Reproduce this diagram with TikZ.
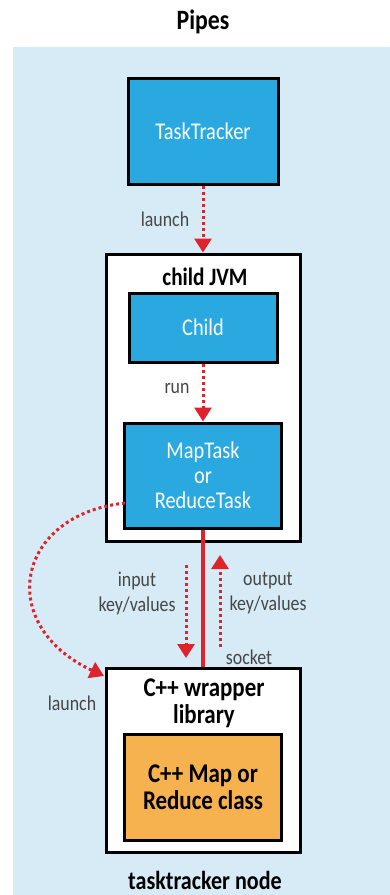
\documentclass[tikz,border=0pt]{standalone}
\usepackage{fontspec}
\setmainfont{Carlito}[FakeStretch=0.85]
\usetikzlibrary{arrows.meta,positioning}

\definecolor{bgblue}{RGB}{214,235,246}
\definecolor{boxblue}{RGB}{41,169,224}
\definecolor{boxorange}{RGB}{247,178,80}
\definecolor{arrred}{RGB}{222,35,45}
\definecolor{lblgray}{RGB}{70,70,70}

\begin{document}
\begin{tikzpicture}[x=1pt, y=-1pt,
    blu/.style={draw=black, line width=3pt, fill=boxblue, text=white, align=center, font=\fontsize{24}{25}\selectfont},
    wht/.style={draw=black, line width=3pt, fill=white},
    org/.style={draw=black, line width=3pt, fill=boxorange, align=center, font=\bfseries\fontsize{27}{27}\selectfont},
    lbl/.style={text=lblgray, align=center, font=\fontsize{21}{25}\selectfont},
    ttl/.style={align=center, font=\bfseries\fontsize{26}{27}\selectfont},
    dots/.style={arrred, line width=3pt, dash pattern=on 3pt off 3pt, -{Triangle[width=17pt,length=14pt]}}]
    \useasboundingbox (0,0) rectangle (390,895);
    \fill[bgblue] (13,47) rectangle (390,895);

    \node[ttl, font=\bfseries\fontsize{28}{30}\selectfont] (pipes) at (203,22) {Pipes};

    \node[blu, minimum width=150pt, minimum height=106pt] (tt) at (203,131) {TaskTracker};

    \node[wht, minimum width=194pt, minimum height=287pt] (jvm) at (203,397.5) {};
    \node[ttl, font=\bfseries\fontsize{25}{27}\selectfont] (jvmname) at (205,277) {child JVM};
    \node[blu, minimum width=148pt, minimum height=69pt] (child) at (203,327.5) {Child};
    \node[blu, minimum width=157pt, minimum height=105pt] (task) at (203,475.5) {MapTask\\or\\ReduceTask};

    \node[wht, minimum width=194pt, minimum height=184pt] (wrap) at (203,760) {};
    \node[ttl, font=\bfseries\fontsize{27}{27}\selectfont] (wrapname) at (204,703) {C++ wrapper\\library};
    \node[org, minimum width=157pt, minimum height=106pt] (cls) at (203,787) {C++ Map or\\Reduce class};
    \node[ttl] (ttnode) at (205,880) {tasktracker node};

    \node[lbl] (launchA) at (165,219) {launch};
    \node[lbl] (runlbl) at (177,388) {run};
    \node[lbl] (inlbl) at (137,593) {input\\key/values};
    \node[lbl] (outlbl) at (268,593) {output\\key/values};
    \node[lbl] (socklbl) at (249,657) {socket};
    \node[lbl] (launchB) at (72,703) {launch};

    \coordinate (inA) at (186,565);
    \coordinate (inB) at (186,658);
    \coordinate (outA) at (220,647);
    \coordinate (outB) at (220,555);
    \coordinate (lA) at (125,503);
    \coordinate (lB) at (104,676);

    \draw[dots] (tt.south) -- (jvm.north);
    \draw[dots] (child.south) -- (task.north);
    \draw[arrred, line width=4pt] (task.south) -- (wrap.north);
    \draw[dots] (inA) -- (inB);
    \draw[dots] (outA) -- (outB);
    \draw[dots] (lA) .. controls (15,515) and (-5,625) .. (lB);
\end{tikzpicture}
\end{document}
